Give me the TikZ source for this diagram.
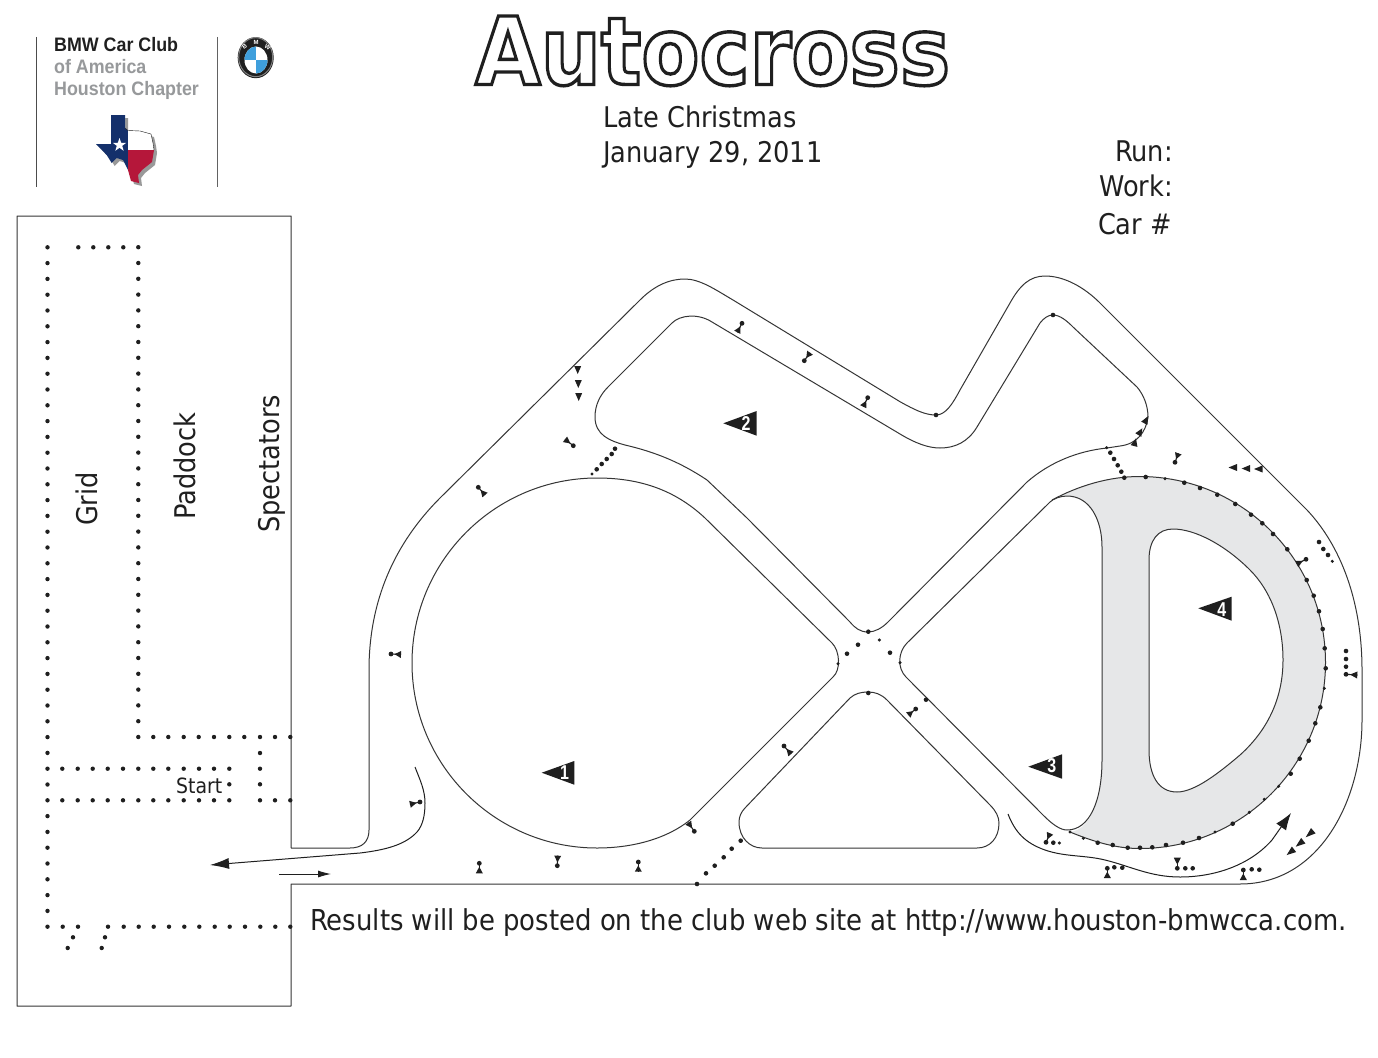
\documentclass[tikz,border=0pt]{standalone}
\usepackage{fontspec}
\usetikzlibrary{calc,arrows.meta}
\setmainfont{Liberation Sans}
\newfontfamily\tah{DejaVu Sans Condensed}
\newfontfamily\tahb{DejaVu Sans}
\definecolor{ink}{HTML}{1F1F1F}
\definecolor{trackgray}{HTML}{E6E7E8}
\definecolor{logogray}{HTML}{97999B}
\definecolor{flagblue}{HTML}{14306B}
\definecolor{flagred}{HTML}{B5173A}
\definecolor{bmwblue}{HTML}{3F9FDC}
\tikzset{
  trackline/.style={draw=ink!90,line width=1pt,line join=round},
  dot/.style={fill=ink},
  lab/.style={inner sep=0pt,text=ink,font=\tah\fontsize{28.5}{28.5}\selectfont},
  logotext/.style={inner sep=0pt,anchor=base west,font=\bfseries\fontsize{19.5}{20}\selectfont},
  numeral/.style={inner sep=0pt,text=white,font=\bfseries\fontsize{20}{20}\selectfont},
  flagtri/.style={fill=ink}
}
\newcommand\coneat[2]{%
  \fill[ink] (#1) circle[radius=2.4];
  \draw[ink,line width=1.1pt] (#1) -- (#2);
  \fill[ink] ($(#2)!3.5pt!90:(#1)$) -- ($(#2)!.65!(#1)$) -- ($(#2)!3.5pt!-90:(#1)$) -- cycle;
}
\newcommand\tipat[2]{%
  \fill[ink] (#1) -- ($(#2)!3.5pt!90:(#1)$) -- ($(#2)!3.5pt!-90:(#1)$) -- cycle;
}
\newcommand\texaspath{(111,115) -- (125,115) -- (125,128) -- (128,130.5) -- (140,131) -- (151,134) -- (153,143) -- (154,150) -- (152,162) -- (142,170) -- (138,175) -- (139,183) -- (131,181) -- (128,170) -- (123,160) -- (116.7,158) -- (111.7,163) -- (106.7,155) -- (96,144) -- (111,144) -- cycle}
\newcommand\narrow[1]{\scalebox{.915}[1]{#1}}
\begin{document}
\begin{tikzpicture}[x=1pt,y=-1pt]
\useasboundingbox (0,0) rectangle (1378,1057);
\fill[white] (0,0) rectangle (1378,1057);

% logo
\draw[ink!80,line width=1pt] (36.5,37) -- (36.5,187);
\draw[ink!70,line width=1.2pt] (217.5,37) -- (217.5,187);
\node[logotext,text=ink] (bmwclub) at (54,52) {\narrow{BMW Car Club}};
\node[logotext,text=logogray] (ofam) at (54,73.5) {\narrow{of America}};
\node[logotext,text=logogray] (houston) at (54,95) {\narrow{Houston Chapter}};
\begin{scope}[shift={(3,3)}]
\fill[black!40] \texaspath;
\end{scope}
\begin{scope}
\clip \texaspath;
\fill[white] (90,110) rectangle (170,150);
\fill[flagred] (127.7,150) rectangle (170,190);
\fill[flagblue] (90,110) rectangle (127.7,190);
\end{scope}
\draw[ink,line width=0.4pt] (125,128) -- (128,130.5) -- (140,131) -- (151,134) -- (153,143) -- (154,150);
\fill[white] (119.5,138) -- (121.2,142.8) -- (126.2,142.8) -- (122.2,145.8) -- (123.7,150.8) -- (119.5,147.8) -- (115.3,150.8) -- (116.8,145.8) -- (112.8,142.8) -- (117.8,142.8) -- cycle;

% roundel
\fill[ink] (255.7,57.7) ellipse[x radius=18,y radius=20.5];
\draw[black!50,line width=1pt] (255.7,57.2) ellipse[x radius=17,y radius=19.5];
\begin{scope}
\clip (256,60) ellipse[x radius=11.5,y radius=13.5];
\fill[white] (240,40) rectangle (275,80);
\fill[bmwblue] (240,40) rectangle (256,60);
\fill[bmwblue] (256,60) rectangle (275,80);
\end{scope}
\node[inner sep=0pt,text=white,rotate=32,font=\bfseries\fontsize{6}{6}\selectfont] (rb) at (244.5,47) {B};
\node[inner sep=0pt,text=white,font=\bfseries\fontsize{6}{6}\selectfont] (rm) at (256,42) {M};
\node[inner sep=0pt,text=white,rotate=-32,font=\bfseries\fontsize{6}{6}\selectfont] (rw) at (267.5,47) {W};

% title
\node[inner sep=0pt,anchor=base west] (title) at (475,84.5) {\tahb\bfseries\fontsize{94}{94}\selectfont\scalebox{.9}[1]{\special{pdf:code q 1 Tr 3.4 w 0.12 0.12 0.12 RG}Autocross\special{pdf:code Q}}};
\node[lab,anchor=base west] (event) at (603,127) {Late Christmas};
\node[lab,anchor=base west] (date) at (603,162) {January 29, 2011};
\node[lab,anchor=base east] (run) at (1173,161) {Run:};
\node[lab,anchor=base east] (work) at (1173,196) {Work:};
\node[lab,anchor=base east] (car) at (1172,234) {Car \#};
\node[lab,rotate=90] (grid) at (87,499) {Grid};
\node[lab,rotate=90] (paddock) at (185,466) {Paddock};
\node[lab,rotate=90] (spect) at (272,464) {Spectators};
\node[lab,anchor=base west,font=\tah\fontsize{21}{21}\selectfont] (start) at (176,793.5) {Start};
\node[lab,anchor=base west,font=\tah\fontsize{28.8}{29}\selectfont] (results) at (310,930) {Results will be posted on the club web site at http://www.houston-bmwcca.com.};

% gray D
\fill[trackgray,even odd rule]
 (1052,500) .. controls (1078.8,485.6) and (1109,476.5) .. (1139.5,476.5)
 .. controls (1242.2,476.5) and (1325.5,559.8) .. (1325.5,662.5)
 .. controls (1325.5,765.2) and (1242.2,848.5) .. (1139.5,848.5)
 .. controls (1115.2,848.5) and (1092.5,841.2) .. (1070,832)
 .. controls (1090,830) and (1102,800) .. (1102,760) -- (1102,547)
 .. controls (1102,520) and (1090,496) .. (1067,496) .. controls (1060,496) and (1055,498) .. (1052,500) -- cycle
 (1149,560) .. controls (1149,540) and (1158,529) .. (1173,529)
 .. controls (1195,529) and (1225,545) .. (1250,570)
 .. controls (1272,592) and (1283,625) .. (1283,660)
 .. controls (1283,695) and (1270,728) .. (1240,755)
 .. controls (1220,772) and (1195,792) .. (1177,792)
 .. controls (1158,792) and (1149,775) .. (1149,750) -- cycle;
\draw[trackline]
 (1052,500) .. controls (1078.8,485.6) and (1109,476.5) .. (1139.5,476.5)
 .. controls (1242.2,476.5) and (1325.5,559.8) .. (1325.5,662.5)
 .. controls (1325.5,765.2) and (1242.2,848.5) .. (1139.5,848.5)
 .. controls (1115.2,848.5) and (1092.5,841.2) .. (1070,832);
\draw[trackline]
 (1149,560) .. controls (1149,540) and (1158,529) .. (1173,529)
 .. controls (1195,529) and (1225,545) .. (1250,570)
 .. controls (1272,592) and (1283,625) .. (1283,660)
 .. controls (1283,695) and (1270,728) .. (1240,755)
 .. controls (1220,772) and (1195,792) .. (1177,792)
 .. controls (1158,792) and (1149,775) .. (1149,750) -- cycle;

% outer boundary
\draw[trackline]
 (291,848) -- (350,848) .. controls (362,848) and (369,842) .. (369,830) -- (369,670)
 .. controls (369,600) and (395,543) .. (440,498) -- (640,300)
 .. controls (655,285) and (670,279) .. (685,279)
 .. controls (700,279) and (716,290) .. (733,300) -- (900,401.7)
 .. controls (915,410) and (925,415) .. (936,415)
 .. controls (946,415) and (953,403) .. (960,390) -- (1010,303)
 .. controls (1020,285) and (1030,276) .. (1045,276)
 .. controls (1065,276) and (1085,288) .. (1100,303) -- (1307,510)
 .. controls (1340,545) and (1362,600) .. (1362,670) -- (1362,720)
 .. controls (1362,800) and (1320,884) .. (1240,884) -- (291,884)
 -- (291,1006) -- (17,1006) -- (17,216) -- (291,216) -- (291,848);

% circle teardrop 1
\draw[trackline]
 (597,848) .. controls (495,848) and (412,765) .. (412,663)
 .. controls (412,561) and (495,478) .. (597,478)
 .. controls (640,478) and (675,490) .. (705,518) -- (832,643)
 .. controls (840,651) and (841,670) .. (833,677) -- (690,820)
 .. controls (665,840) and (630,848) .. (597,848);

% island 2
\draw[trackline]
 (625,445) .. controls (610,441) and (595,435) .. (595,417)
 .. controls (595,405) and (600,395) .. (608,387) -- (672,323)
 .. controls (680,315) and (698,313) .. (712,322) -- (900,434)
 .. controls (915,443) and (928,448) .. (940,448)
 .. controls (955,448) and (968,442) .. (977,427) -- (1040,323)
 .. controls (1044,318) and (1048,315) .. (1053,315)
 .. controls (1060,315) and (1067,321) .. (1073,327) -- (1137,387)
 .. controls (1143,394) and (1148,405) .. (1148,417)
 .. controls (1146,432) and (1137,444) .. (1120,446) -- (1107,448)
 .. controls (1078,451) and (1050,462) .. (1027,482) -- (888,622)
 .. controls (882,628) and (875,632) .. (868,632)
 .. controls (860,632) and (855,628) .. (850,622) -- (747,518) -- (707,480)
 .. controls (680,462) and (655,452) .. (625,445);

% right teardrop 3
\draw[trackline]
 (1043,815) .. controls (1052,824) and (1060,830) .. (1067,830)
 .. controls (1090,830) and (1102,800) .. (1102,760) -- (1102,547)
 .. controls (1102,520) and (1090,496) .. (1067,496)
 .. controls (1060,496) and (1053,499) .. (1050,502) -- (907,643)
 .. controls (898,652) and (897,668) .. (906,677) -- cycle;

% triangle island
\draw[trackline]
 (850,698) .. controls (855,693.5) and (861,692) .. (868,692)
 .. controls (875,692) and (881,694) .. (887,700) -- (990,805)
 .. controls (996,811) and (999,817) .. (999,823)
 .. controls (999,838) and (990,848) .. (977,848) -- (762,848)
 .. controls (750,848) and (739,838) .. (739,822)
 .. controls (739,817) and (741,812) .. (745,808) -- cycle;

% flow arrows
\coordinate (exitS) at (415,767);
\coordinate (exitT) at (210,865);
\coordinate (entryS) at (279,874);
\coordinate (entryT) at (331,874);
\coordinate (finS) at (1008,814);
\coordinate (finT) at (1291,813);
\draw[ink,line width=1pt,-{Latex[length=19pt,width=11pt]}] (exitS)
 .. controls (420,780) and (425,790) .. (425,803)
 .. controls (425,815) and (423,825) .. (417,832)
 .. controls (405,845) and (385,850) .. (360,853) -- (exitT);
\draw[ink,line width=0.9pt,-{Latex[length=13pt,width=7pt]}] (entryS) -- (entryT);
\draw[ink,line width=1pt,-{Latex[length=17pt,width=12pt]}] (finS)
 .. controls (1015,832) and (1025,843) .. (1045,850)
 .. controls (1065,857) and (1085,855) .. (1105,860)
 .. controls (1130,866) and (1150,877) .. (1180,877)
 .. controls (1215,877) and (1250,865) .. (1272,840) -- (finT);

% flags
\fill[flagtri] (541.7,772.7) -- (574.3,761) -- (574.3,784.7) -- cycle;
\fill[flagtri] (723.3,423.3) -- (756.7,411) -- (756.7,435.7) -- cycle;
\fill[flagtri] (1028.3,766.7) -- (1062,754.3) -- (1062,778.7) -- cycle;
\fill[flagtri] (1198.3,608.3) -- (1231.7,596.7) -- (1231.7,620.7) -- cycle;
\node[numeral] (n1) at (564.5,773) {\scalebox{.8}[1]{1}};
\node[numeral] (n2) at (746,423.3) {\scalebox{.8}[1]{2}};
\node[numeral] (n3) at (1051.7,766) {\scalebox{.8}[1]{3}};
\node[numeral] (n4) at (1221.7,609.3) {\scalebox{.8}[1]{4}};

% grid dots
\foreach \i in {0,...,43} \fill[dot] (47.5,926.7-15.8*\i) circle[radius=2.2];
\foreach \i in {0,...,31} \fill[dot] (138.3,737-15.8*\i) circle[radius=2.2];
\foreach \x in {78.3,93.3,108.3,123.3} \fill[dot] (\x,247.3) circle[radius=2.2];
\foreach \x in {153.3,168.3,183.7,198.7,214,229.3,244.3,260,275,290.3} \fill[dot] (\x,737) circle[radius=2.2];
\foreach \y in {753,768.7,784.3,800.3} \fill[dot] (260,\y) circle[radius=2.2];
\foreach \x in {62.3,77.7,92.7,107.7,123,138.3,153.3,168.3,183.7,199,214,229.3} {
  \fill[dot] (\x,768.7) circle[radius=2.2];
  \fill[dot] (\x,800.3) circle[radius=2.2];
}
\fill[dot] (229.3,784.3) circle[radius=2.2];
\foreach \x in {275,290.3} \fill[dot] (\x,800.3) circle[radius=2.2];
\foreach \x in {62.7,78,108,123.7,138.7,153.7,169,184.3,199.3,214.7,229.7,245,260.3,275.3,290.3} \fill[dot] (\x,926.7) circle[radius=2.2];
\foreach \q in {(73,937.3),(67.7,948),(105,937.3),(101.7,948)} \fill[dot] \q circle[radius=2.2];

% course dots
\foreach \q in {(1124.3,477.7),(1145.7,477),(1184.3,482.7),(1200,488),(1217.3,494.7),(1235.3,504),(1251,514.7),(1262.3,523.3),(1273,534),(1287.3,549.3),(1306.7,580),(1313.7,595.7),(1319,611.3),(1322.7,629),(1324.7,648.3),(1325.7,668.3),(1320.3,707.3),(1315.3,723.3),(1308.7,740.7),(1299.7,758.7),(1290.7,773.7),(1232.7,823.7),(1199,838),(1183,842.7),(1166,845),(1152.3,847.3),(1140,847.7),(1127.7,847.7),(1112.7,845),(1097.7,842.7),
 (1110.3,452.7),(1114,459),(1117.7,465.3),(1121.3,471.7),(1053,315),(936,415),
 (1319,542),(1323.3,549),(1328,555),(1346,651),(1346,659),(1346,666.7),
 (611.7,454),(606.7,459),(601.7,464),(596.7,469.3),(615,448.7),
 (868.3,631.7),(858,644.7),(847,653.7),(890,652.7),(868.3,693),(926,699.7),
 (740.7,840.7),(731.7,848.7),(723.7,857.3),(714.7,865.7),(706,873.3),(697,884),
 (1114.3,867.3),(1122.3,867.7),(1185.3,868.3),(1192.7,868.3),(1251.7,869.3),(1259.3,869.7),(1053.3,842.7)}
 \fill[dot] \q circle[radius=2.3];
\foreach \q in {(1165,478.7),(1324.3,688.3),(1278.7,786.3),(1264.3,799.3),(1249.3,812.3),(1215,832),(1083.3,838.3),(1070,832),(1332.3,561.3),(592,474),(1106.7,447.7),(879.3,640),(838,663.7),(900,662.7),(1059.3,843)}
 \fill[dot] \q circle[radius=1.7];

% cones
\coneat{742,323.3}{737.3,332.3}
\coneat{804.3,360.7}{810,352.7}
\coneat{867.7,397.7}{863.3,406.7}
\coneat{573.3,445.7}{565,439.3}
\coneat{478.3,487.3}{485,495}
\coneat{1175,462.3}{1178.3,453.3}
\coneat{1306,559.3}{1296.7,564}
\coneat{1346,674.3}{1357.3,675}
\coneat{915.7,709}{908.3,715}
\coneat{784,746}{791,754}
\coneat{694.3,831.3}{688.3,822.7}
\coneat{420,802}{410,804.3}
\coneat{479.3,863.3}{479.3,873.3}
\coneat{557.3,865.7}{557.7,855.7}
\coneat{638.3,862}{638.3,871.7}
\coneat{391,654}{401,654.5}
\coneat{1046,842.3}{1050,833.3}
\coneat{1107.3,868.3}{1107.3,878}
\coneat{1177.3,868.3}{1177.3,857.7}
\coneat{1243.3,870}{1243.3,880}

% pointers
\tipat{577.7,374}{577.7,366}
\tipat{578.3,388}{578.3,380}
\tipat{578.7,401}{578.7,393}
\tipat{1228.5,467.5}{1237,467.5}
\tipat{1241.7,468.5}{1250,468.5}
\tipat{1254,469}{1262.5,469}
\tipat{1136,438.3}{1134,446}
\tipat{1142.3,428.3}{1138.3,435}
\tipat{1148.3,416}{1144.3,423.3}
\tipat{1286.7,855}{1294,849.3}
\tipat{1295.7,846.7}{1303.3,840.7}
\tipat{1305.7,837.3}{1313.3,830.7}
\end{tikzpicture}
\end{document}
